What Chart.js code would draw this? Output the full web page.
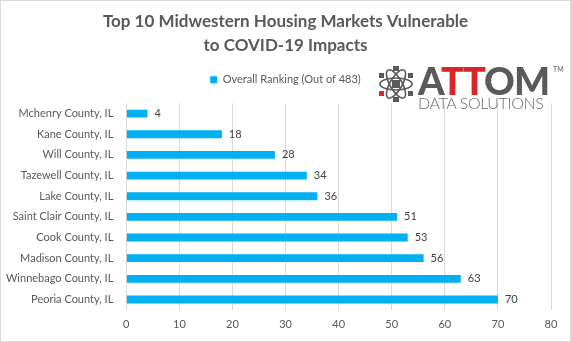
<!DOCTYPE html>
<html>
<head>
<meta charset="utf-8">
<script src="https://cdn.jsdelivr.net/npm/chart.js@4"></script>
<style>
  html, body { margin: 0; padding: 0; background: #fff; }
  #wrap { position: relative; width: 569px; height: 340px; border: 1px solid #d9d9d9; }
  #logo { position: absolute; left: 377px; top: 62px; width: 190px; height: 50px; font-family: Lato, sans-serif; }
  #logo svg { position: absolute; left: 0; top: 2px; }
  #logo .name { position: absolute; left: 40px; top: -6px; font-size: 38px; font-weight: 900; color: #5a5a5a; letter-spacing: -1px; }
  #logo .name span { color: #d9262b; }
  #logo .tm { position: absolute; left: 175px; top: 2px; font-size: 7px; color: #666; }
  #logo .sub { position: absolute; left: 40px; top: 30px; font-size: 16px; font-weight: 300; color: #6b6b6b; letter-spacing: -0.4px; }
</style>
</head>
<body>
<div id="wrap">
  <canvas id="myChart" width="569" height="340"></canvas>
  <div id="logo">
    <svg width="36" height="38" viewBox="0 0 36 38">
      <g fill="none" stroke="#5a5a5a" stroke-width="1.6">
        <ellipse cx="18" cy="19" rx="16" ry="6"/>
        <ellipse cx="18" cy="19" rx="16" ry="6" transform="rotate(60 18 19)"/>
        <ellipse cx="18" cy="19" rx="16" ry="6" transform="rotate(-60 18 19)"/>
      </g>
      <g fill="#5a5a5a">
        <rect x="14" y="15" width="8" height="8"/>
        <rect x="15" y="1" width="6" height="5"/>
        <rect x="15" y="32" width="6" height="5"/>
        <rect x="1" y="8" width="5" height="5"/>
        <rect x="30" y="8" width="5" height="5"/>
        <rect x="30" y="26" width="5" height="5"/>
      </g>
      <rect x="1" y="26" width="5" height="5" fill="#d9262b"/>
    </svg>
    <div class="name">A<span>TT</span>OM</div>
    <div class="tm">TM</div>
    <div class="sub">DATA SOLUTIONS</div>
  </div>
</div>
<script>
  const counties = ['Mchenry County, IL', 'Kane County, IL', 'Will County, IL', 'Tazewell County, IL', 'Lake County, IL',
    'Saint Clair County, IL', 'Cook County, IL', 'Madison County, IL', 'Winnebago County, IL', 'Peoria County, IL'];
  const ranking = [4, 18, 28, 34, 36, 51, 53, 56, 63, 70];
  const titleLines = ['Top 10 Midwestern Housing Markets Vulnerable', 'to COVID-19 Impacts'];
  const seriesName = 'Overall Ranking (Out of 483)';

  // value labels at the end of each bar
  const barLabels = {
    id: 'barLabels',
    afterDatasetsDraw(chart) {
      const c = chart.ctx;
      const meta = chart.getDatasetMeta(0);
      c.save();
      c.font = '11px Lato, sans-serif';
      c.fillStyle = '#404040';
      c.textBaseline = 'middle';
      meta.data.forEach((bar, i) => {
        c.fillText(String(ranking[i]), bar.x + 7, bar.y);
      });
      c.restore();
    }
  };

  // extra room between the legend and the plot, and centre title + legend on the full canvas
  const headerFix = {
    id: 'headerFix',
    beforeInit(chart) {
      const fit = chart.legend.fit;
      chart.legend.fit = function () {
        fit.bind(chart.legend)();
        this.height += 8;
      };
    },
    beforeDraw(chart) {
      [chart.titleBlock, chart.legend].forEach(box => {
        box.left = 0;
        box.right = chart.width;
        box.width = chart.width;
      });
    }
  };

  new Chart(document.getElementById('myChart'), {
    type: 'bar',
    data: {
      labels: counties,
      datasets: [{
        label: seriesName,
        data: ranking,
        backgroundColor: '#00b0f0',
        barPercentage: 0.38,
        categoryPercentage: 1
      }]
    },
    options: {
      indexAxis: 'y',
      responsive: false,
      animation: false,
      layout: { padding: { left: 0, right: 19, top: 4, bottom: 2 } },
      plugins: {
        title: {
          display: true,
          text: titleLines,
          color: '#595959',
          font: { family: 'Lato, sans-serif', size: 17, weight: 'bold', lineHeight: 1.45 },
          padding: { top: 4, bottom: 6 }
        },
        legend: {
          labels: {
            color: '#595959',
            font: { family: 'Lato, sans-serif', size: 11 },
            boxWidth: 7,
            boxHeight: 7,
            padding: 10
          }
        },
        tooltip: { enabled: false }
      },
      scales: {
        x: {
          min: 0,
          max: 80,
          ticks: { stepSize: 10, color: '#595959', font: { family: 'Lato, sans-serif', size: 11 }, padding: 8 },
          grid: { color: '#d9d9d9', drawTicks: false },
          border: { display: false }
        },
        y: {
          ticks: { color: '#595959', font: { family: 'Lato, sans-serif', size: 11 }, padding: 5 },
          grid: { display: false },
          border: { display: false }
        }
      }
    },
    plugins: [barLabels, headerFix]
  });
</script>
</body>
</html>
